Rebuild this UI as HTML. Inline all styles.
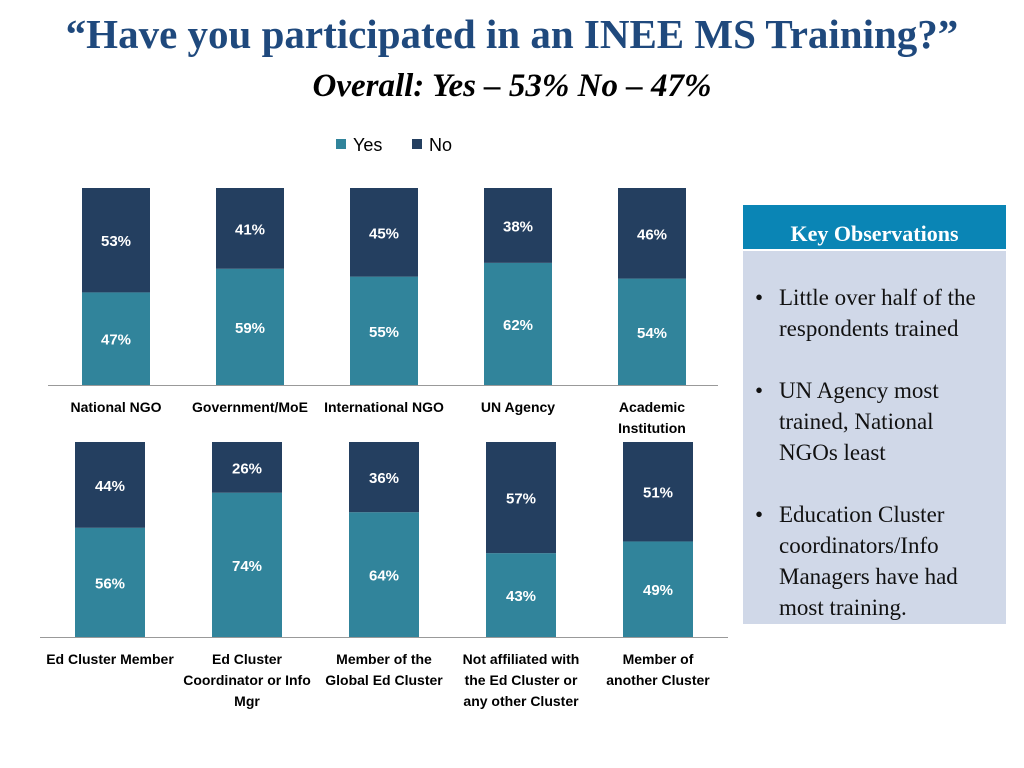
<!DOCTYPE html>
<html><head><meta charset="utf-8"><style>
body{margin:0;width:1024px;height:768px;background:#fff;overflow:hidden;position:relative;font-family:"Liberation Sans",sans-serif}
.t{position:absolute;left:0;width:1024px;text-align:center;font-family:"Liberation Serif",serif;font-weight:bold}
</style></head><body>
<div class="t" style="top:10px;font-size:41px;color:#1f497d">“Have you participated in an INEE MS Training?”</div>
<div class="t" style="top:68px;font-size:33px;font-style:italic;color:#000">Overall: Yes – 53% No – 47%</div>
<svg id="c" width="1024" height="768" style="position:absolute;left:0;top:0"></svg>
<div style="position:absolute;left:743px;top:205px;width:263px;height:43px;background:#0a85b5;color:#fff;font-family:'Liberation Serif',serif;font-weight:bold;font-size:22px;text-align:center;line-height:22px;padding-top:18px;box-sizing:border-box;height:44px">Key Observations</div>
<div style="position:absolute;left:743px;top:251px;width:263px;height:373px;background:#d0d8e8;font-family:'Liberation Serif',serif;font-size:23px;line-height:31px;color:#111;box-sizing:border-box;padding:33px 8px 0 36px">
<div style="position:relative;margin-top:-2px"><span style="position:absolute;left:-24px">•</span>Little over half of the respondents trained</div>
<div style="position:relative;margin-top:31px"><span style="position:absolute;left:-24px">•</span>UN Agency most trained, National NGOs least</div>
<div style="position:relative;margin-top:31px"><span style="position:absolute;left:-24px">•</span>Education Cluster coordinators/Info Managers have had most training.</div>
</div>
<script>
const cats1=["National NGO","Government/MoE","International NGO","UN Agency","Academic\nInstitution"];
const yes1=[47,59,55,62,54];
const no1=[53,41,45,38,46];
const cats2=["Ed Cluster Member","Ed Cluster\nCoordinator or Info\nMgr","Member of the\nGlobal Ed Cluster","Not affiliated with\nthe Ed Cluster or\nany other Cluster","Member of\nanother Cluster"];
const yes2=[56,74,64,43,49];
const no2=[44,26,36,57,51];
const svg=document.getElementById('c');const NS='http://www.w3.org/2000/svg';
function mk(t,a,p){const e=document.createElementNS(NS,t);for(const k in a)e.setAttribute(k,a[k]);(p||svg).appendChild(e);return e;}
function chart(cats,yes,no,o){
 const g=mk('g',{});
 
 
 const y=v=>o.base-v/100*o.h;
 const ax=mk('line',{x1:o.ax0,x2:o.ax1,y1:o.base+0.5,y2:o.base+0.5,stroke:'#999','stroke-width':1},g);
 
 
 cats.forEach((c,i)=>{
  const x=o.x0+i*o.step;const tot=yes[i]+no[i];
  const yv=yes[i]/tot*100;
  const r1=mk('rect',{x:x,y:y(yv),width:o.w,height:o.base-y(yv),fill:'#31849b'},g);
  
  
  const r2=mk('rect',{x:x,y:y(100),width:o.w,height:y(yv)-y(100),fill:'#243f60'},g);
  
  
  [[yes[i],(y(yv)+o.base)/2],[no[i],(y(100)+y(yv))/2]].forEach(([v,cy],j)=>{
   const t=mk('text',{x:x+o.w/2,y:cy+6,'text-anchor':'middle',fill:'#fff','font-size':15,'font-weight':'bold'},g);
   t.textContent=v+'%';
   
   
  });
  c.split('\n').forEach((ln,k)=>{
   const t=mk('text',{x:x+o.w/2,y:o.base+27+k*21,'text-anchor':'middle',fill:'#000','font-size':14,'font-weight':'bold'},g);
   t.textContent=ln;
   
   
  });
 });
}
chart(cats1,yes1,no1,{name:'chart-organization',base:385,h:197,x0:82,step:134,w:68,ax0:48,ax1:718});
chart(cats2,yes2,no2,{name:'chart-cluster',base:637,h:195,x0:75,step:137,w:70,ax0:40,ax1:728});
const lg=mk('g',{});


[['Yes','#31849b',336],['No','#243f60',412]].forEach(([n,c,x])=>{
 const r=mk('rect',{x:x,y:139,width:10,height:10,fill:c},lg);
 
 
 const t=mk('text',{x:x+17,y:151,'font-size':18,fill:'#000'},lg);
 t.textContent=n;
 
 
});
</script>
</body></html>
